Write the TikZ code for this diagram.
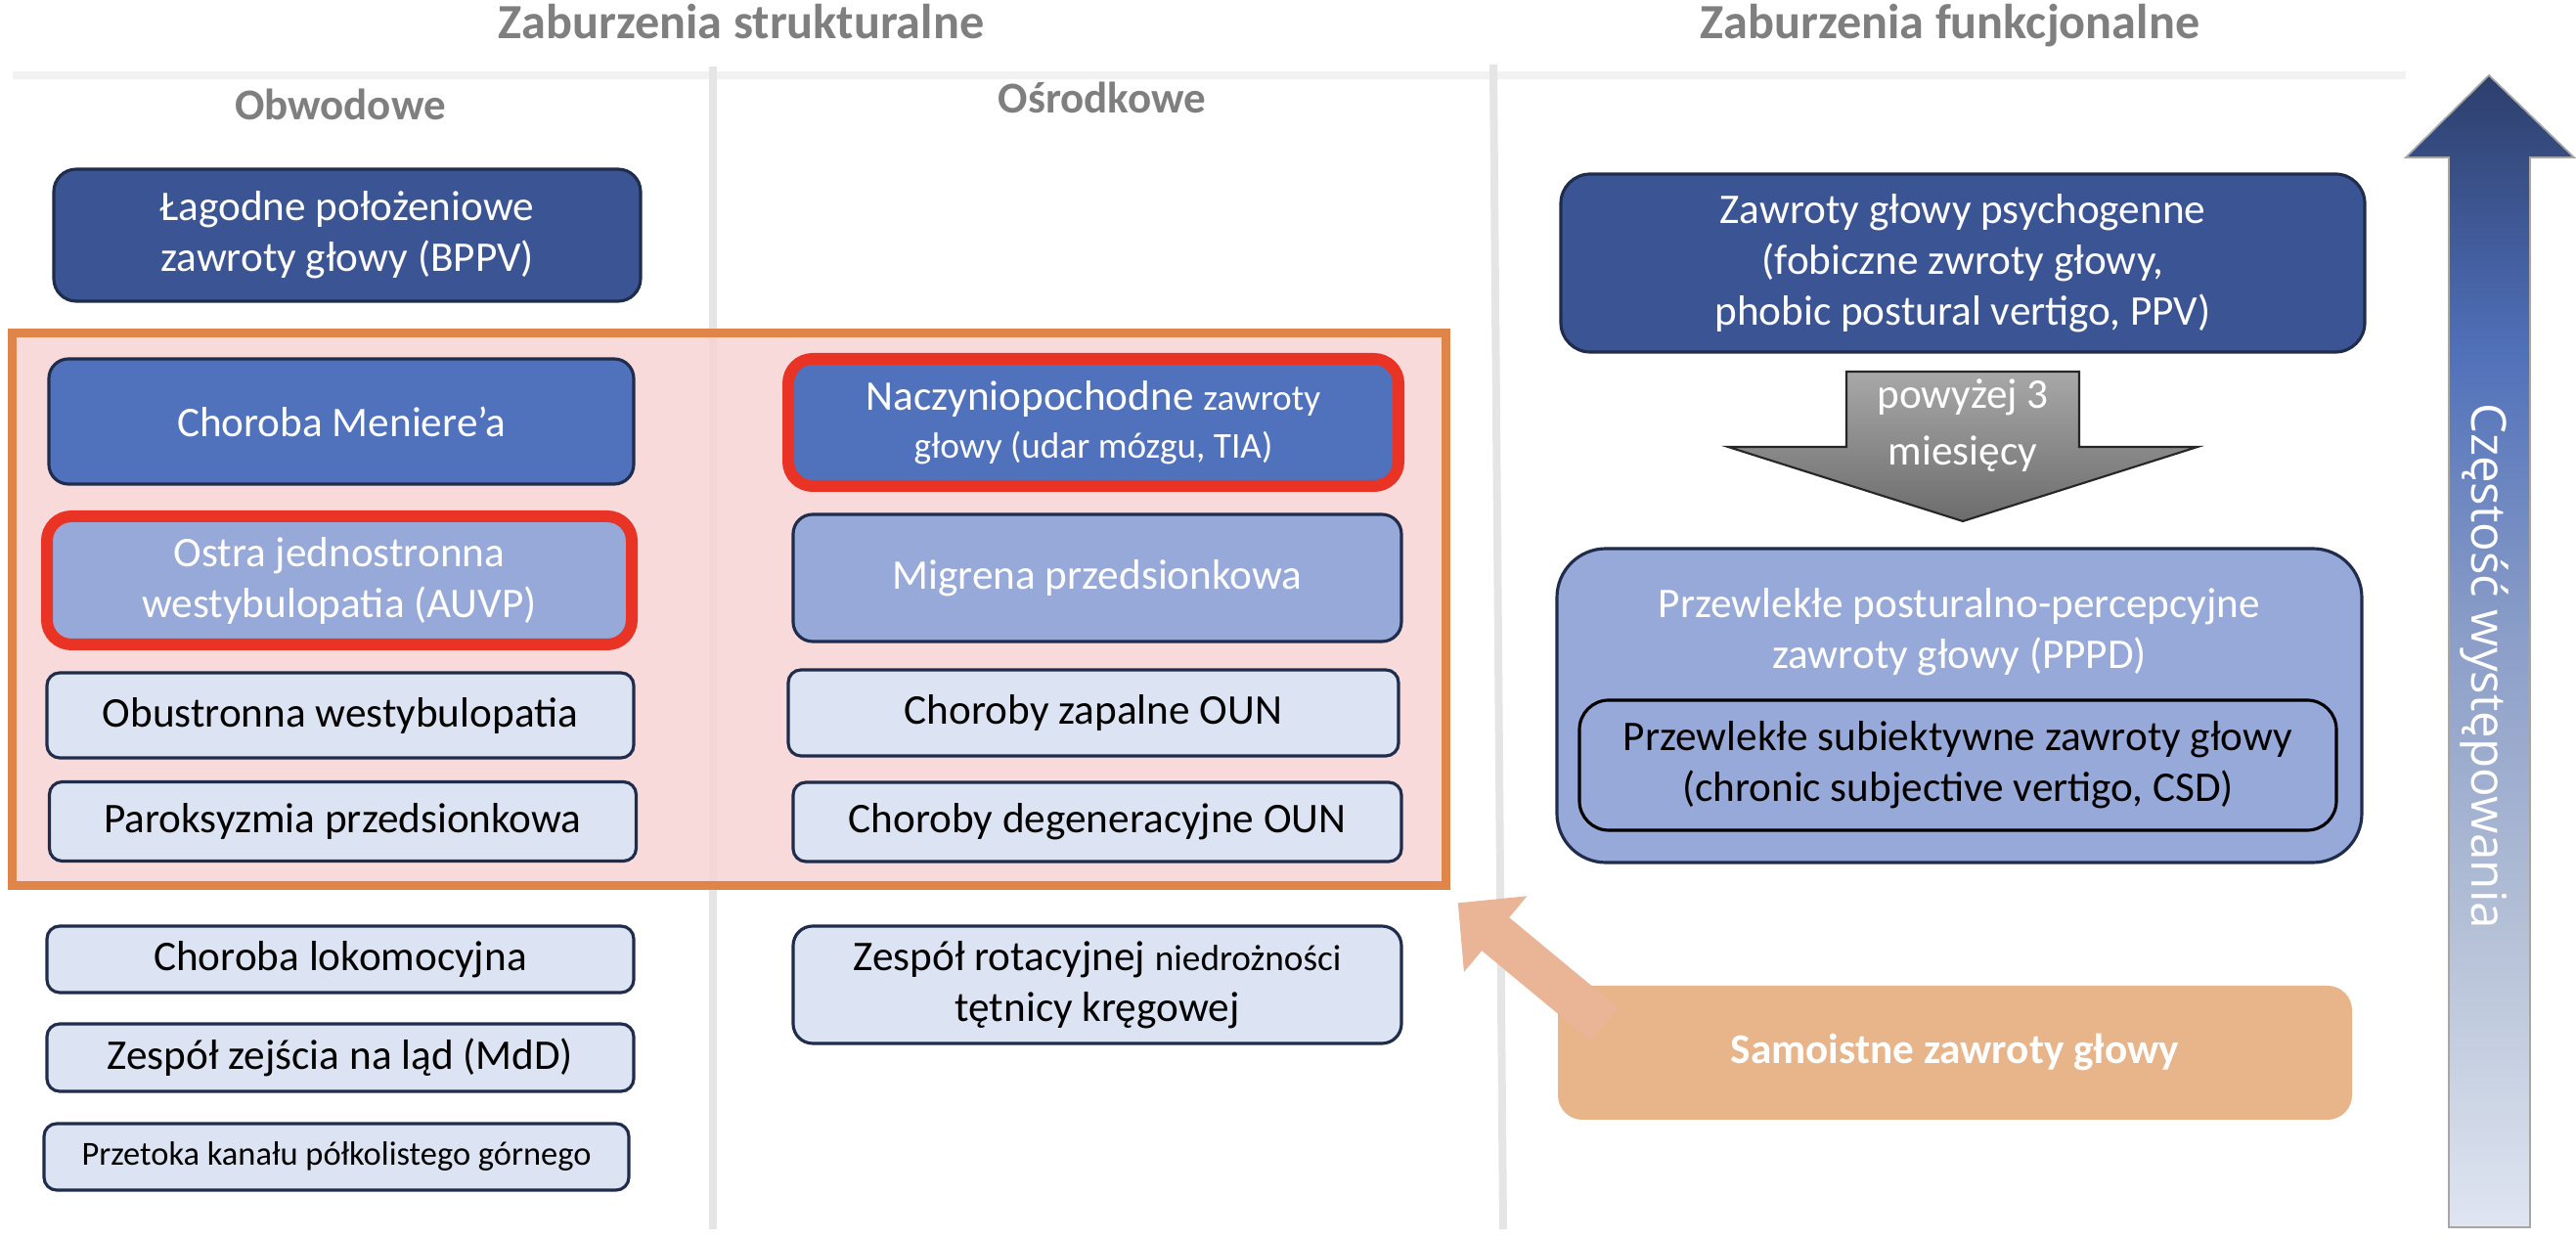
\documentclass[tikz,border=0pt]{standalone}
\usepackage{fontspec}
\setmainfont{Carlito}
\newfontfamily\freqfont{Open Sans}
\usepackage{xcolor}
\usetikzlibrary{arrows.meta,positioning,calc}

\definecolor{bdark}{RGB}{59,85,148}
\definecolor{bmid}{RGB}{80,114,189}
\definecolor{blight}{RGB}{150,169,216}
\definecolor{bpale}{RGB}{220,227,242}
\definecolor{bline}{RGB}{31,44,76}
\definecolor{redrim}{RGB}{233,51,36}
\definecolor{frameor}{RGB}{224,133,74}
\definecolor{framefill}{RGB}{247,212,212}
\definecolor{peach}{RGB}{232,180,138}
\definecolor{peacharr}{RGB}{234,181,150}
\definecolor{headgray}{RGB}{127,127,127}
\definecolor{sepgray}{RGB}{229,229,229}
\definecolor{rulegray}{RGB}{242,242,242}
\definecolor{arrtop}{RGB}{168,168,168}
\definecolor{arrbot}{RGB}{108,108,108}
\definecolor{freqbot}{RGB}{223,229,241}
\definecolor{freqlow}{RGB}{180,192,214}
\definecolor{freqmid}{RGB}{138,157,200}
\definecolor{freqhigh}{RGB}{80,112,185}
\definecolor{freqtop}{RGB}{44,62,108}

\pgfdeclareverticalshading{freqshade}{100bp}{color(0bp)=(freqbot); color(25bp)=(freqbot);
  color(38bp)=(freqlow); color(51bp)=(freqmid); color(63bp)=(freqhigh);
  color(75bp)=(freqtop); color(100bp)=(freqtop)}

\newcommand\fsnorm{\fontsize{12.3}{14.8}\selectfont}
\newcommand\fssmall{\fontsize{10.6}{13}\selectfont}

\tikzset{
  box/.style={draw=bline, line width=0.9pt, rounded corners=2mm, align=center,
              font=\fsnorm, inner sep=2pt},
  darkbox/.style={box, fill=bdark, text=white},
  midbox/.style={box, fill=bmid, text=white},
  lightbox/.style={box, fill=blight, text=white},
  palebox/.style={box, fill=bpale, text=black, rounded corners=1.3mm},
  redrim/.style={draw=redrim, line width=0.12cm},
  colhead/.style={font=\bfseries\fontsize{14.3}{17}\selectfont, text=headgray, anchor=base},
  subhead/.style={font=\bfseries\fontsize{12.8}{15}\selectfont, text=headgray, anchor=base},
  colsep/.style={draw=sepgray, line width=0.08cm},
  spontflow/.style={draw=peacharr, line width=0.44cm, -{Triangle[width=0.98cm, length=0.50cm]}},
}

\begin{document}
\begin{tikzpicture}
  \useasboundingbox (0,0) rectangle (26.34,-12.68);

  % headings and separators
  \node[colhead] (strukt) at (7.58,-0.40) {Zaburzenia strukturalne};
  \node[colhead] (funk) at (19.94,-0.40) {Zaburzenia funkcjonalne};
  \draw[draw=rulegray, line width=0.08cm] (0.13,-0.775) -- (24.6,-0.775);
  \draw[colsep] (7.29,-0.68) -- (7.29,-12.57);
  \draw[colsep] (15.27,-0.66) -- (15.37,-12.57);
  \node[subhead] (obw) at (3.48,-1.23) {Obwodowe};
  \node[subhead] (osr) at (11.27,-1.16) {Ośrodkowe};

  % frame
  \node[draw=frameor, line width=0.09cm, fill=framefill, fill opacity=0.85,
        inner sep=0pt, outer sep=0pt, minimum width=14.66cm, minimum height=5.65cm]
        (frame) at (7.455,-6.23) {};

  % peripheral
  \node[darkbox, minimum width=6.0cm, minimum height=1.35cm, rounded corners=2.3mm] (bppv)
        at (3.55,-2.405) {Łagodne położeniowe\\ zawroty głowy (BPPV)};
  \node[midbox, minimum width=5.98cm, minimum height=1.28cm] (meniere) at (3.49,-4.31) {Choroba Meniere’a};
  \node[lightbox, redrim, minimum width=5.98cm, minimum height=1.31cm, rounded corners=2.5mm] (auvp)
        at (3.47,-5.935) {Ostra jednostronna\\ westybulopatia (AUVP)};
  \node[palebox, minimum width=6.0cm, minimum height=0.87cm] (bvp) at (3.48,-7.315) {Obustronna westybulopatia};
  \node[palebox, minimum width=6.0cm, minimum height=0.81cm] (vp) at (3.505,-8.40) {Paroksyzmia przedsionkowa};
  \node[palebox, minimum width=6.0cm, minimum height=0.68cm] (lok) at (3.48,-9.81) {Choroba lokomocyjna};
  \node[palebox, minimum width=6.0cm, minimum height=0.69cm] (mdd) at (3.48,-10.815) {Zespół zejścia na ląd (MdD)};
  \node[palebox, minimum width=5.98cm, minimum height=0.68cm, font=\fontsize{9.8}{12}\selectfont] (scd)
        at (3.44,-11.83) {Przetoka kanału półkolistego górnego};

  % central
  \node[midbox, redrim, minimum width=6.24cm, minimum height=1.30cm, rounded corners=2.5mm] (naczyn)
        at (11.18,-4.32) {Naczyniopochodne {\fssmall zawroty}\\[-1pt] {\fssmall głowy (udar mózgu, TIA)}};
  \node[lightbox, minimum width=6.22cm, minimum height=1.30cm] (migr) at (11.22,-5.91) {Migrena przedsionkowa};
  \node[palebox, minimum width=6.24cm, minimum height=0.88cm] (oun1) at (11.18,-7.29) {Choroby zapalne OUN};
  \node[palebox, minimum width=6.22cm, minimum height=0.81cm] (oun2) at (11.22,-8.405) {Choroby degeneracyjne OUN};
  \node[palebox, minimum width=6.22cm, minimum height=1.20cm, rounded corners=2mm] (bhs)
        at (11.22,-10.07) {Zespół rotacyjnej {\fssmall niedrożności}\\ tętnicy kręgowej};

  % functional
  \node[darkbox, minimum width=8.22cm, minimum height=1.82cm, rounded corners=3mm] (ppv)
        at (20.07,-2.69) {Zawroty głowy psychogenne\\ (fobiczne zwroty głowy,\\ phobic postural vertigo, PPV)};
  \shade[top color=arrtop, bottom color=arrbot, draw=black!85, line width=0.6pt]
        (18.88,-3.80) -- (21.26,-3.80) -- (21.26,-4.57) -- (22.47,-4.57) -- (20.07,-5.33)
        -- (17.67,-4.57) -- (18.88,-4.57) -- cycle;
  \node[font=\fontsize{12.3}{16.4}\selectfont, text=white, align=center] (months)
        at (20.07,-4.35) {powyżej 3\\ miesięcy};
  \node[lightbox, minimum width=8.23cm, minimum height=3.21cm, rounded corners=5mm] (pppd) at (20.035,-7.215) {};
  \node[font=\fsnorm, text=white, align=center] (pppdtxt) at (20.035,-6.46)
        {Przewlekłe posturalno-percepcyjne\\ zawroty głowy (PPPD)};
  \node[lightbox, draw=black, text=black, minimum width=7.74cm, minimum height=1.33cm, rounded corners=3mm] (csd)
        at (20.02,-7.825) {Przewlekłe subiektywne zawroty głowy\\ (chronic subjective vertigo, CSD)};
  \node[box, draw=none, fill=peach, text=white, font=\bfseries\fsnorm, minimum width=8.12cm,
        minimum height=1.37cm, rounded corners=2.5mm] (spont) at (19.99,-10.765) {Samoistne zawroty głowy};

  \coordinate (spontTail) at ($(spont.north west)+(0.49,-0.41)$);
  \coordinate (frameTip) at ($(frame.south east)+(0.122,-0.178)$);
  \draw[spontflow] (spontTail) -- (frameTip);

  % frequency arrow
  \shade[shading=freqshade, draw=gray!70, line width=0.5pt]
        (25.45,-0.77) -- (26.32,-1.61) -- (25.87,-1.61) -- (25.87,-12.55)
        -- (25.04,-12.55) -- (25.04,-1.61) -- (24.60,-1.61) -- cycle;
  \node[rotate=-90, font=\freqfont\fontsize{14}{16}\selectfont, text=white] (freq)
        at (25.40,-6.81) {Częstość występowania};
\end{tikzpicture}
\end{document}
